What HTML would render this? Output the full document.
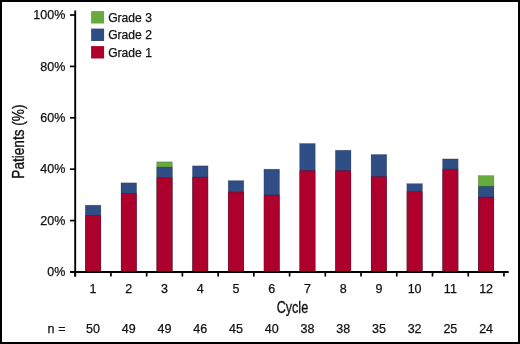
<!DOCTYPE html>
<html><head><meta charset="utf-8"><style>
html,body{margin:0;padding:0;background:#fff;}
#c{position:relative;width:516px;height:340px;border:2px solid #000;background:#fff;overflow:hidden;}
svg{position:absolute;left:-2px;top:-2px;will-change:transform;}
text{font-family:"Liberation Sans",sans-serif;fill:#111;stroke:#111;stroke-width:0.25px;}
.t{font-size:12.5px;}
.lg{font-size:12.1px;}
.ttl{font-size:16.4px;stroke-width:0.35px;}
</style></head><body><div id="c">
<svg width="520" height="344" viewBox="0 0 520 344">
<rect x="85.27" y="205.18" width="15.6" height="66.82" fill="#2e4e85"/>
<rect x="85.27" y="215.46" width="15.6" height="56.54" fill="#ad002d"/>
<rect x="121.00" y="182.84" width="15.6" height="89.16" fill="#2e4e85"/>
<rect x="121.00" y="193.33" width="15.6" height="78.67" fill="#ad002d"/>
<rect x="156.72" y="161.86" width="15.6" height="110.14" fill="#67ab3f"/>
<rect x="156.72" y="167.10" width="15.6" height="104.90" fill="#2e4e85"/>
<rect x="156.72" y="177.59" width="15.6" height="94.41" fill="#ad002d"/>
<rect x="192.45" y="165.85" width="15.6" height="106.15" fill="#2e4e85"/>
<rect x="192.45" y="177.02" width="15.6" height="94.98" fill="#ad002d"/>
<rect x="228.19" y="180.62" width="15.6" height="91.38" fill="#2e4e85"/>
<rect x="228.19" y="192.04" width="15.6" height="79.96" fill="#ad002d"/>
<rect x="263.91" y="169.20" width="15.6" height="102.80" fill="#2e4e85"/>
<rect x="263.91" y="194.90" width="15.6" height="77.10" fill="#ad002d"/>
<rect x="299.64" y="143.50" width="15.6" height="128.50" fill="#2e4e85"/>
<rect x="299.64" y="170.55" width="15.6" height="101.45" fill="#ad002d"/>
<rect x="335.37" y="150.26" width="15.6" height="121.74" fill="#2e4e85"/>
<rect x="335.37" y="170.55" width="15.6" height="101.45" fill="#ad002d"/>
<rect x="371.10" y="154.51" width="15.6" height="117.49" fill="#2e4e85"/>
<rect x="371.10" y="176.54" width="15.6" height="95.46" fill="#ad002d"/>
<rect x="406.83" y="183.66" width="15.6" height="88.34" fill="#2e4e85"/>
<rect x="406.83" y="191.69" width="15.6" height="80.31" fill="#ad002d"/>
<rect x="442.56" y="158.92" width="15.6" height="113.08" fill="#2e4e85"/>
<rect x="442.56" y="169.20" width="15.6" height="102.80" fill="#ad002d"/>
<rect x="478.29" y="175.62" width="15.6" height="96.38" fill="#67ab3f"/>
<rect x="478.29" y="186.33" width="15.6" height="85.67" fill="#2e4e85"/>
<rect x="478.29" y="197.04" width="15.6" height="74.96" fill="#ad002d"/>
<rect x="85.27" y="205.18" width="15.6" height="66.82" fill="none" stroke="rgba(0,0,0,0.3)" stroke-width="0.6"/>
<line x1="85.27" y1="215.46" x2="100.86" y2="215.46" stroke="rgba(0,0,0,0.3)" stroke-width="0.6"/>
<rect x="121.00" y="182.84" width="15.6" height="89.16" fill="none" stroke="rgba(0,0,0,0.3)" stroke-width="0.6"/>
<line x1="121.00" y1="193.33" x2="136.60" y2="193.33" stroke="rgba(0,0,0,0.3)" stroke-width="0.6"/>
<rect x="156.72" y="161.86" width="15.6" height="110.14" fill="none" stroke="rgba(0,0,0,0.3)" stroke-width="0.6"/>
<line x1="156.72" y1="167.10" x2="172.32" y2="167.10" stroke="rgba(0,0,0,0.3)" stroke-width="0.6"/>
<line x1="156.72" y1="177.59" x2="172.32" y2="177.59" stroke="rgba(0,0,0,0.3)" stroke-width="0.6"/>
<rect x="192.45" y="165.85" width="15.6" height="106.15" fill="none" stroke="rgba(0,0,0,0.3)" stroke-width="0.6"/>
<line x1="192.45" y1="177.02" x2="208.05" y2="177.02" stroke="rgba(0,0,0,0.3)" stroke-width="0.6"/>
<rect x="228.19" y="180.62" width="15.6" height="91.38" fill="none" stroke="rgba(0,0,0,0.3)" stroke-width="0.6"/>
<line x1="228.19" y1="192.04" x2="243.78" y2="192.04" stroke="rgba(0,0,0,0.3)" stroke-width="0.6"/>
<rect x="263.91" y="169.20" width="15.6" height="102.80" fill="none" stroke="rgba(0,0,0,0.3)" stroke-width="0.6"/>
<line x1="263.91" y1="194.90" x2="279.51" y2="194.90" stroke="rgba(0,0,0,0.3)" stroke-width="0.6"/>
<rect x="299.64" y="143.50" width="15.6" height="128.50" fill="none" stroke="rgba(0,0,0,0.3)" stroke-width="0.6"/>
<line x1="299.64" y1="170.55" x2="315.25" y2="170.55" stroke="rgba(0,0,0,0.3)" stroke-width="0.6"/>
<rect x="335.37" y="150.26" width="15.6" height="121.74" fill="none" stroke="rgba(0,0,0,0.3)" stroke-width="0.6"/>
<line x1="335.37" y1="170.55" x2="350.97" y2="170.55" stroke="rgba(0,0,0,0.3)" stroke-width="0.6"/>
<rect x="371.10" y="154.51" width="15.6" height="117.49" fill="none" stroke="rgba(0,0,0,0.3)" stroke-width="0.6"/>
<line x1="371.10" y1="176.54" x2="386.70" y2="176.54" stroke="rgba(0,0,0,0.3)" stroke-width="0.6"/>
<rect x="406.83" y="183.66" width="15.6" height="88.34" fill="none" stroke="rgba(0,0,0,0.3)" stroke-width="0.6"/>
<line x1="406.83" y1="191.69" x2="422.43" y2="191.69" stroke="rgba(0,0,0,0.3)" stroke-width="0.6"/>
<rect x="442.56" y="158.92" width="15.6" height="113.08" fill="none" stroke="rgba(0,0,0,0.3)" stroke-width="0.6"/>
<line x1="442.56" y1="169.20" x2="458.16" y2="169.20" stroke="rgba(0,0,0,0.3)" stroke-width="0.6"/>
<rect x="478.29" y="175.62" width="15.6" height="96.38" fill="none" stroke="rgba(0,0,0,0.3)" stroke-width="0.6"/>
<line x1="478.29" y1="186.33" x2="493.89" y2="186.33" stroke="rgba(0,0,0,0.3)" stroke-width="0.6"/>
<line x1="478.29" y1="197.04" x2="493.89" y2="197.04" stroke="rgba(0,0,0,0.3)" stroke-width="0.6"/>
<line x1="75.2" y1="10.5" x2="75.2" y2="276.5" stroke="#000" stroke-width="1.9"/>
<line x1="70" y1="272" x2="508.7" y2="272" stroke="#000" stroke-width="1.9"/>
<line x1="70" y1="272.00" x2="75.2" y2="272.00" stroke="#000" stroke-width="1.7"/>
<text x="65.3" y="276.20" text-anchor="end" class="t">0%</text>
<line x1="70" y1="220.60" x2="75.2" y2="220.60" stroke="#000" stroke-width="1.7"/>
<text x="65.3" y="224.80" text-anchor="end" class="t">20%</text>
<line x1="70" y1="169.20" x2="75.2" y2="169.20" stroke="#000" stroke-width="1.7"/>
<text x="65.3" y="173.40" text-anchor="end" class="t">40%</text>
<line x1="70" y1="117.80" x2="75.2" y2="117.80" stroke="#000" stroke-width="1.7"/>
<text x="65.3" y="122.00" text-anchor="end" class="t">60%</text>
<line x1="70" y1="66.40" x2="75.2" y2="66.40" stroke="#000" stroke-width="1.7"/>
<text x="65.3" y="70.60" text-anchor="end" class="t">80%</text>
<line x1="70" y1="15.00" x2="75.2" y2="15.00" stroke="#000" stroke-width="1.7"/>
<text x="65.3" y="19.20" text-anchor="end" class="t">100%</text>
<line x1="75.20" y1="272" x2="75.20" y2="276.5" stroke="#000" stroke-width="1.7"/>
<line x1="110.93" y1="272" x2="110.93" y2="276.5" stroke="#000" stroke-width="1.7"/>
<line x1="146.66" y1="272" x2="146.66" y2="276.5" stroke="#000" stroke-width="1.7"/>
<line x1="182.39" y1="272" x2="182.39" y2="276.5" stroke="#000" stroke-width="1.7"/>
<line x1="218.12" y1="272" x2="218.12" y2="276.5" stroke="#000" stroke-width="1.7"/>
<line x1="253.85" y1="272" x2="253.85" y2="276.5" stroke="#000" stroke-width="1.7"/>
<line x1="289.58" y1="272" x2="289.58" y2="276.5" stroke="#000" stroke-width="1.7"/>
<line x1="325.31" y1="272" x2="325.31" y2="276.5" stroke="#000" stroke-width="1.7"/>
<line x1="361.04" y1="272" x2="361.04" y2="276.5" stroke="#000" stroke-width="1.7"/>
<line x1="396.77" y1="272" x2="396.77" y2="276.5" stroke="#000" stroke-width="1.7"/>
<line x1="432.50" y1="272" x2="432.50" y2="276.5" stroke="#000" stroke-width="1.7"/>
<line x1="468.23" y1="272" x2="468.23" y2="276.5" stroke="#000" stroke-width="1.7"/>
<line x1="503.96" y1="272" x2="503.96" y2="276.5" stroke="#000" stroke-width="1.7"/>
<text x="93.06" y="293" text-anchor="middle" class="t">1</text>
<text x="93.06" y="333" text-anchor="middle" class="t">50</text>
<text x="128.80" y="293" text-anchor="middle" class="t">2</text>
<text x="128.80" y="333" text-anchor="middle" class="t">49</text>
<text x="164.52" y="293" text-anchor="middle" class="t">3</text>
<text x="164.52" y="333" text-anchor="middle" class="t">49</text>
<text x="200.25" y="293" text-anchor="middle" class="t">4</text>
<text x="200.25" y="333" text-anchor="middle" class="t">46</text>
<text x="235.99" y="293" text-anchor="middle" class="t">5</text>
<text x="235.99" y="333" text-anchor="middle" class="t">45</text>
<text x="271.71" y="293" text-anchor="middle" class="t">6</text>
<text x="271.71" y="333" text-anchor="middle" class="t">40</text>
<text x="307.44" y="293" text-anchor="middle" class="t">7</text>
<text x="307.44" y="333" text-anchor="middle" class="t">38</text>
<text x="343.17" y="293" text-anchor="middle" class="t">8</text>
<text x="343.17" y="333" text-anchor="middle" class="t">38</text>
<text x="378.90" y="293" text-anchor="middle" class="t">9</text>
<text x="378.90" y="333" text-anchor="middle" class="t">35</text>
<text x="414.63" y="293" text-anchor="middle" class="t">10</text>
<text x="414.63" y="333" text-anchor="middle" class="t">32</text>
<text x="450.36" y="293" text-anchor="middle" class="t">11</text>
<text x="450.36" y="333" text-anchor="middle" class="t">25</text>
<text x="486.09" y="293" text-anchor="middle" class="t">12</text>
<text x="486.09" y="333" text-anchor="middle" class="t">24</text>
<text x="47.6" y="333" class="t">n</text><text x="58.2" y="333" class="t">=</text>
<text transform="translate(292.4,313.1) scale(0.77,1)" text-anchor="middle" class="ttl">Cycle</text>
<text transform="translate(23.6,141.6) rotate(-90) scale(0.83,1)" text-anchor="middle" class="ttl">Patients (%)</text>
<rect x="91.1" y="11.10" width="13" height="12.4" fill="#67ab3f"/>
<text x="108.2" y="21.60" class="lg">Grade 3</text>
<rect x="91.1" y="28.60" width="13" height="12.4" fill="#2e4e85"/>
<text x="108.2" y="39.10" class="lg">Grade 2</text>
<rect x="91.1" y="46.10" width="13" height="12.4" fill="#ad002d"/>
<text x="108.2" y="56.60" class="lg">Grade 1</text>
</svg></div></body></html>
